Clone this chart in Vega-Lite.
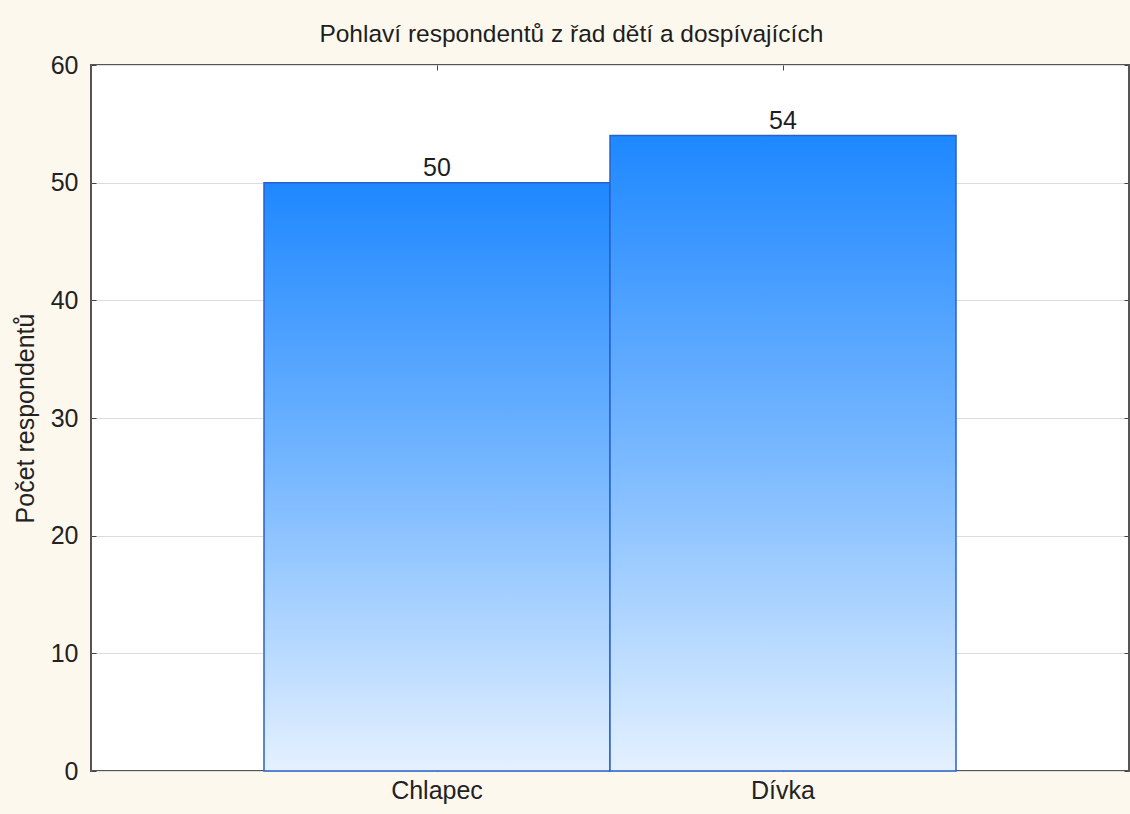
{
  "$schema": "https://vega.github.io/schema/vega-lite/v6.json",
  "width": 1038,
  "height": 706,
  "autosize": {"type": "none"},
  "padding": {"left": 91, "top": 65, "right": 1, "bottom": 43},
  "background": "#fdf8ee",
  "title": {
    "text": "Pohlaví respondentů z řad dětí a dospívajících",
    "font": "Liberation Sans",
    "fontSize": 24.5,
    "fontWeight": "normal",
    "color": "#1e1e1e",
    "anchor": "middle",
    "frame": "bounds",
    "baseline": "alphabetic",
    "offset": -13
  },
  "data": {
    "values": [
      {"pohlavi": "Chlapec", "pocet": 50},
      {"pohlavi": "Dívka", "pocet": 54}
    ]
  },
  "encoding": {
    "x": {
      "field": "pohlavi",
      "type": "nominal",
      "sort": null,
      "scale": {"paddingInner": 0, "paddingOuter": 0.5},
      "axis": {
        "title": null,
        "labelAngle": 0,
        "domain": false,
        "grid": false,
        "ticks": true,
        "tickSize": -5,
        "labelPadding": 12
      }
    },
    "y": {
      "field": "pocet",
      "type": "quantitative",
      "scale": {"domain": [0, 60], "nice": false},
      "axis": {
        "title": "Počet respondentů",
        "values": [0, 10, 20, 30, 40, 50, 60],
        "domain": false,
        "grid": true,
        "gridColor": "#dcdcdc",
        "gridWidth": 1,
        "ticks": true,
        "tickSize": -5,
        "labelPadding": 18,
        "titlePadding": 12
      }
    }
  },
  "layer": [
    {
      "mark": {
        "type": "bar",
        "color": {
          "gradient": "linear",
          "x1": 0,
          "y1": 0,
          "x2": 0,
          "y2": 1,
          "stops": [
            {"offset": 0, "color": "#1e88ff"},
            {"offset": 0.5, "color": "#78b8ff"},
            {"offset": 1, "color": "#e4f1ff"}
          ]
        },
        "stroke": "#2a62c9",
        "strokeWidth": 1.5
      }
    },
    {
      "mark": {
        "type": "text",
        "baseline": "alphabetic",
        "dy": -7,
        "font": "Liberation Sans",
        "fontSize": 25,
        "color": "#1e1e1e"
      },
      "encoding": {
        "text": {"field": "pocet", "type": "quantitative"},
        "x": {
          "field": "pohlavi",
          "type": "nominal",
          "sort": null,
          "axis": {
            "orient": "top",
            "title": null,
            "labels": false,
            "domain": false,
            "grid": false,
            "ticks": true,
            "tickSize": -5
          }
        },
        "y": {
          "field": "pocet",
          "type": "quantitative",
          "axis": {
            "orient": "right",
            "title": null,
            "values": [0, 10, 20, 30, 40, 50, 60],
            "labels": false,
            "domain": false,
            "grid": false,
            "ticks": true,
            "tickSize": -5
          }
        }
      }
    }
  ],
  "resolve": {"axis": {"x": "independent", "y": "independent"}},
  "config": {
    "view": {"fill": "#ffffff", "stroke": "#555555", "strokeWidth": 2},
    "axis": {
      "labelFont": "Liberation Sans",
      "labelFontSize": 25,
      "labelColor": "#222222",
      "titleFont": "Liberation Sans",
      "titleFontSize": 25,
      "titleFontWeight": "normal",
      "titleColor": "#222222",
      "tickColor": "#444444",
      "tickWidth": 1
    }
  }
}
